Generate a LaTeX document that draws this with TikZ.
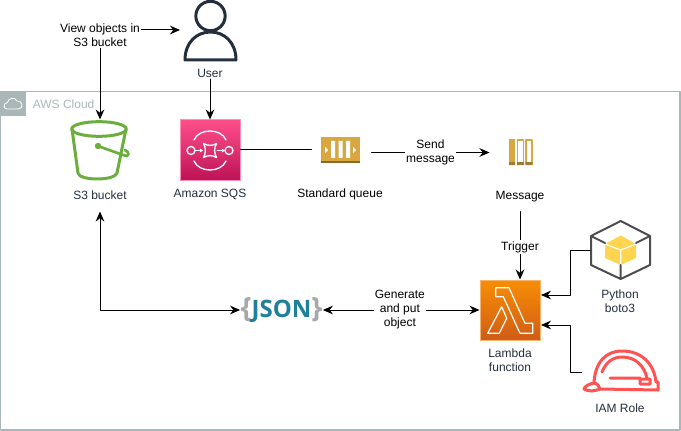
\documentclass[tikz,border=0pt]{standalone}
\usepackage{fontspec}
\setmainfont{Liberation Sans}
\newfontfamily\jsonfont{Open Sans}
\usetikzlibrary{arrows.meta}
\definecolor{cloudgray}{HTML}{AAB7B8}
\definecolor{inkdark}{HTML}{232F3E}
\definecolor{bucketgreen}{HTML}{6CAE3E}
\definecolor{queuegold}{HTML}{D9A741}
\definecolor{queuedark}{HTML}{876929}
\definecolor{hatred}{HTML}{FF5252}
\definecolor{boxgray}{HTML}{4D4D4D}
\definecolor{jsonteal}{HTML}{1F8099}
\definecolor{jsongray}{HTML}{A8A8A8}
\definecolor{sqstop}{HTML}{FF4F8B}
\definecolor{sqsbottom}{HTML}{BC1356}
\definecolor{sqsedge}{HTML}{FF8FB5}
\definecolor{lambdatop}{HTML}{F78E04}
\definecolor{lambdabottom}{HTML}{D05C17}
\definecolor{lambdaedge}{HTML}{F7B26B}
\definecolor{cubeyellow}{HTML}{FFD44F}
\begin{document}
\begin{tikzpicture}[x=0.75pt,y=-0.75pt,line join=round,line cap=round,>={Stealth[length=7.5pt,width=6.5pt]},line width=0.75pt]
	\tikzset{
		txt/.style={font=\fontsize{9}{10.5}\selectfont,align=center,inner sep=1pt},
		edgetxt/.style={txt,fill=white},
		icontxt/.style={txt,text=inkdark},
		icon/.style={minimum size=45pt,inner sep=0pt},
	}
	\useasboundingbox (0,0) rectangle (681,431);
	\draw[cloudgray,line width=1pt] (0.5,91.5) rectangle (680,430);
	\fill[cloudgray] (0,91) rectangle (25.5,116.5);
	\draw[white,line width=0.6pt] (7,109)..controls (3,109) and (3,103) .. (7.5,102.5)
		..controls (8,98) and (15,96.5) .. (17,101)
		..controls (23,100.5) and (24,109) .. (18,109)--cycle;
	\node[txt,text=cloudgray,anchor=west] (cloudtxt) at (31,104) {AWS Cloud};
	
	\node[icon] (user) at (210.5,32) {};
	\draw[inkdark,line width=2.25pt] (185,60)..controls (185,42) and (197,32) .. (210.5,32)
		..controls (224,32) and (236,42) .. (236,60)--cycle;
	\draw[inkdark,line width=2.25pt,fill=white] (210.5,16) circle[radius=11pt];
	\node[icontxt] (usertxt) at (210,73) {User};
	
	\node[icon] (bucket) at (100,150) {};
	\draw[bucketgreen,line width=2.25pt] (72,129)--(78,173)..controls (79,181) and (115,181) .. (117,173)--(126,129);
	\draw[bucketgreen,line width=2.25pt] (99,129) ellipse[x radius=20.5pt,y radius=5.5pt];
	\draw[bucketgreen,line width=2pt] (98,146)--(123,155)..controls (130,158) and (130,152) .. (125,150);
	\fill[bucketgreen] (98,146) circle[radius=2.4pt];
	\node[icontxt,minimum height=24pt] (buckettxt) at (100,195) {S3 bucket};
	
	\node[icon,draw=sqsedge,top color=sqstop,bottom color=sqsbottom] (sqs) at (210,150) {};
	\draw[white,line width=1pt] (191,150.5) circle[radius=3pt] (229,150.5) circle[radius=3pt]
		(194,140)..controls (199,128) and (221,128) .. (226,140)
		(194,161)..controls (199,173) and (221,173) .. (226,161)
		(203.5,143.5)..controls (208,146) and (212,146) .. (216.5,143.5)
		..controls (214,148) and (214,153) .. (216.5,157.5)
		..controls (212,155) and (208,155) .. (203.5,157.5)
		..controls (206,153) and (206,148) .. (203.5,143.5);
	\draw[white,line width=0.75pt,-{Stealth[length=2.5pt,width=3pt]}] (195,150.5)--(203,150.5);
	\draw[white,line width=0.75pt,-{Stealth[length=2.5pt,width=3pt]}] (217,150.5)--(225,150.5);
	\node[icontxt] (sqstxt) at (210,194) {Amazon SQS};
	
	\node[minimum width=44.25pt,minimum height=45pt,inner sep=0pt] (queue) at (341.5,150) {};
	\fill[queuegold] (321,137) rectangle (360,161.5);
	\fill[queuedark] (321,161.5) rectangle (360,163);
	\fill[white] (331,141) rectangle (335,158) (338.5,141) rectangle (342.5,158) (346,141) rectangle (350,158)
		(325,147)--(328,150)--(325,153)--cycle (353,147)--(356,150)--(353,153)--cycle;
	\node[txt] (queuetxt) at (340,194) {Standard queue};
	
	\node[icon] (message) at (520,152.5) {};
	\fill[queuegold] (509,139) rectangle (515,163);
	\draw[queuegold,line width=1.2pt] (517.5,140) rectangle (523.5,164) (526,140) rectangle (532,164);
	\fill[queuedark!70!queuegold] (509,162) rectangle (515,165) (517,162) rectangle (524,165) (525.5,162) rectangle (532.5,165);
	\node[txt,minimum height=22pt] (messagetxt) at (520,196.5) {Message};
	
	\node[icon,draw=lambdaedge,top color=lambdatop,bottom color=lambdabottom] (lambda) at (510,310) {};
	\draw[white,line width=0.9pt] (495.7,287.7)--(509,287.7)--(525,323.3)--(532.7,323.3)--(532.7,333.3)--(520,333.3)--(503.3,296.7)--(495.7,296.7)--cycle
		(501.7,306.7)--(506.7,318.3)--(499.3,333.3)--(487.7,333.3)--cycle;
	\node[icontxt] (lambdatxt) at (510,360) {Lambda\\function};
	\coordinate (lambdaup) at (541,295);
	\coordinate (lambdadown) at (541,325);
	
	\node[icon] (boto) at (620.7,250) {};
	\fill[cubeyellow] (620.7,235.5)--(636,244)--(636,258)--(620.7,265)--(605,258)--(605,244)--cycle;
	\draw[white,line width=0.9pt] (605,244)--(620.7,250)--(636,244) (620.7,250)--(620.7,265);
	\draw[boxgray,line width=1.5pt] (620.7,221)--(650,236)--(650,265)--(620.7,279)--(591,265)--(591,236)--cycle
		(591,236)--(605,243) (650,236)--(636,243) (620.7,279)--(620.7,265);
	\node[txt,text=inkdark] (bototxt) at (620,301) {Python\\boto3};
	
	\node[minimum width=57pt,minimum height=30pt,inner sep=0pt] (hat) at (620,372) {};
	\draw[hatred,line width=2.25pt] (594,383)..controls (595,362) and (606,351) .. (622,351)
		..controls (642,351) and (654,364) .. (656,382)--(658,382)--(658,390)--(600,389)
		..controls (598,384) and (596,383) .. (594,383)..controls (589,384) and (585,386) .. (584,389)
		..controls (588,392) and (596,391) .. (600,389)
		(602,372)..controls (606,362) and (613,357) .. (622,357)..controls (636,357) and (644,366) .. (647,378)
		(610,378)--(640,378)--(640,384)--(650,384)--(650,379)--(640,379);
	\node[txt,text=inkdark] (hattxt) at (620,408) {IAM Role};
	
	\node[minimum width=60.75pt,inner sep=0pt] (json) at (281.5,310) {\jsonfont\bfseries\textcolor{jsongray}{\fontsize{21}{21}\selectfont\{}\textcolor{jsonteal}{\fontsize{18}{18}\selectfont JSON}\textcolor{jsongray}{\fontsize{21}{21}\selectfont\}}};
	
	\draw[<->] (user.west|-0,30)-|(bucket.north) node[pos=0.5,edgetxt,yshift=-3.75pt] (viewtxt) {View objects in\\S3 bucket};
	\draw[->] (usertxt.south)--(sqs.north);
	\draw (sqs.east)--(queue.west);
	\draw[->] (queue.east|-message.west)--(message.west) node[pos=0.5,edgetxt] (sendtxt) {Send\\message};
	\draw[->] (messagetxt.south)--(lambda.north-|messagetxt) node[pos=0.5,edgetxt,yshift=-1pt] (triggertxt) {Trigger};
	\draw[<->] (buckettxt.south)|-(json.west);
	\draw[<->] (json.east)--(lambda.west) node[pos=0.5,edgetxt,xshift=-1pt] (puttxt) {Generate\\and put\\object};
	\draw[->] (boto.west)-|(570.5,295)--(lambdaup);
	\draw[->] (hat.west)-|(570.5,325)--(lambdadown);
\end{tikzpicture}
\end{document}
